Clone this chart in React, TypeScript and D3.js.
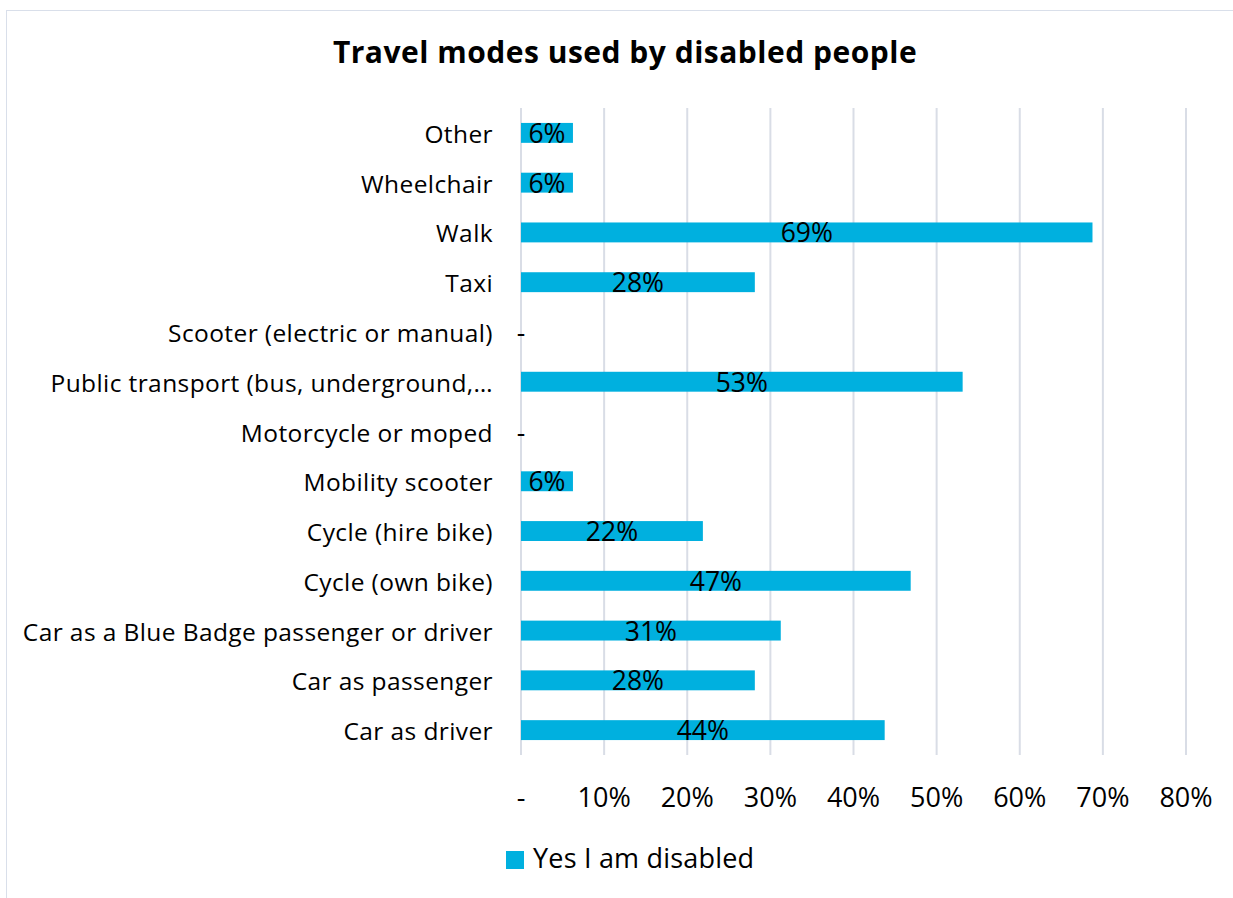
import * as d3 from 'd3';

const categories = [
  'Other',
  'Wheelchair',
  'Walk',
  'Taxi',
  'Scooter (electric or manual)',
  'Public transport (bus, underground,…',
  'Motorcycle or moped',
  'Mobility scooter',
  'Cycle (hire bike)',
  'Cycle (own bike)',
  'Car as a Blue Badge passenger or driver',
  'Car as passenger',
  'Car as driver',
];
const values = [6.25, 6.25, 68.75, 28.13, 0, 53.13, 0, 6.25, 21.88, 46.88, 31.25, 28.13, 43.75];
const tickValues = [0, 10, 20, 30, 40, 50, 60, 70, 80];
const seriesName = 'Yes I am disabled';

const W = 1233;
const H = 898;
const FONT = '"Open Sans", Lato, sans-serif';
const BAR = '#00B0DF';
const GRID = '#D9DDE6';

export default function App() {
  const margin = { top: 108, left: 521, right: 47, bottom: 143 };
  const x = d3.scaleLinear().domain([0, 80]).range([margin.left, W - margin.right]);
  const y = d3
    .scaleBand<string>()
    .domain(categories)
    .range([margin.top, H - margin.bottom])
    .paddingInner(0.6)
    .paddingOuter(0.3);
  const fmt = (v: number) => (v === 0 ? '-' : `${Math.round(v)}%`);
  const mid = (c: string) => (y(c) as number) + y.bandwidth() / 2;

  return (
    <div style={{ position: 'absolute', left: 0, top: 0 }}>
      <svg width={W} height={H} style={{ display: 'block', fontFamily: FONT }}>
        <rect x={0} y={0} width={W} height={H} fill="#fff" />
        <rect x={6.5} y={10.5} width={W + 20} height={H + 20} fill="none" stroke="#D9DFEA" strokeWidth={1} />
        <text
          x={625}
          y={63}
          textAnchor="middle"
          fontSize={30}
          fontWeight="bold"
          letterSpacing={0.5}
          fill="#000"
        >
          Travel modes used by disabled people
        </text>

        {/* gridlines */}
        {tickValues.map((t) => (
          <line
            key={t}
            x1={x(t)}
            x2={x(t)}
            y1={margin.top}
            y2={H - margin.bottom}
            stroke={GRID}
            strokeWidth={2}
          />
        ))}

        {/* bars */}
        {categories.map((c, i) => (
          <rect key={c} x={x(0)} y={y(c)} width={x(values[i]) - x(0)} height={y.bandwidth()} fill={BAR} />
        ))}

        {/* data labels */}
        {categories.map((c, i) => (
          <text
            key={c}
            x={(x(0) + x(values[i])) / 2}
            y={mid(c) + 10}
            textAnchor="middle"
            fontSize={26.5}
            fill="#000"
          >
            {fmt(values[i])}
          </text>
        ))}

        {/* category labels */}
        {categories.map((c) => (
          <text
            key={c}
            x={493}
            y={mid(c) + 10}
            textAnchor="end"
            fontSize={24.5}
            letterSpacing={0.4}
            fill="#000"
          >
            {c}
          </text>
        ))}

        {/* x tick labels */}
        {tickValues.map((t) => (
          <text key={t} x={x(t)} y={807} textAnchor="middle" fontSize={27} fill="#000">
            {t === 0 ? '-' : `${t}%`}
          </text>
        ))}

        {/* legend */}
        <rect x={506} y={851} width={18} height={18} fill={BAR} />
        <text x={533} y={868} fontSize={27} letterSpacing={0.2} fill="#000">
          {seriesName}
        </text>
      </svg>
    </div>
  );
}
